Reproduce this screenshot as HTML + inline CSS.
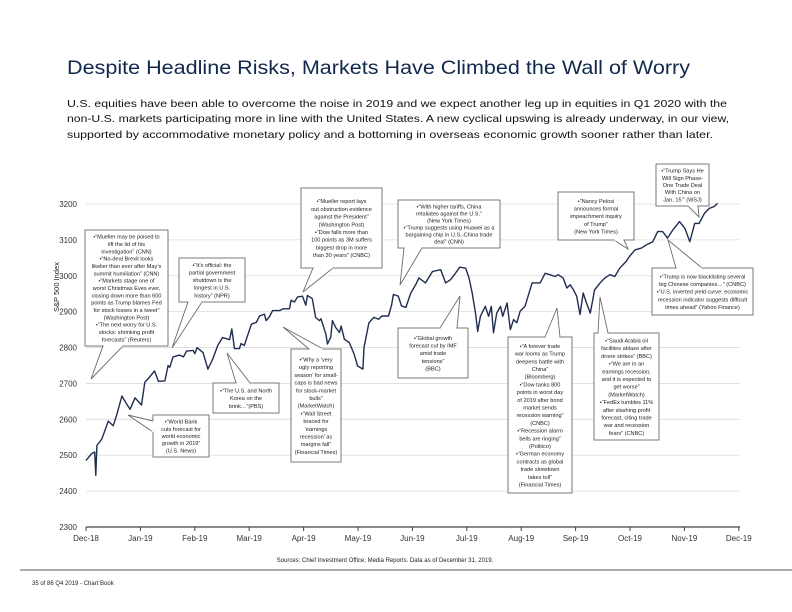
<!DOCTYPE html>
<html><head><meta charset="utf-8"><style>
body{margin:0;background:#fff;}
svg{display:block;font-family:"Liberation Sans",sans-serif;}
.box{fill:#fff;stroke:#6b6b6b;stroke-width:0.9;}
.ann{font-size:5.6px;fill:#222;text-anchor:middle;}
.tick{font-size:8px;fill:#333;}
</style></head><body>
<svg id="chart" width="792" height="612" viewBox="0 0 792 612">
<text x="67" y="74" font-size="19" fill="#12284c" textLength="623" lengthAdjust="spacingAndGlyphs">Despite Headline Risks, Markets Have Climbed the Wall of Worry</text>
<g font-size="10.3" fill="#111">
<text x="67" y="107" textLength="660" lengthAdjust="spacingAndGlyphs">U.S. equities have been able to overcome the noise in 2019 and we expect another leg up in equities in Q1 2020 with the</text>
<text x="67" y="122" textLength="662" lengthAdjust="spacingAndGlyphs">non-U.S. markets participating more in line with the United States. A new cyclical upswing is already underway, in our view,</text>
<text x="67" y="138" textLength="646" lengthAdjust="spacingAndGlyphs">supported by accommodative monetary policy and a bottoming in overseas economic growth sooner rather than later.</text>
</g>
<text transform="translate(59,287) rotate(-90)" font-size="7.5" fill="#222" text-anchor="middle">S&amp;P 500 Index</text>
<g id="grid"></g><g id="axes"></g><g id="series"></g><g id="anns"></g>
<text x="385" y="562" font-size="6" fill="#222" text-anchor="middle">Sources: Chief Investment Office; Media Reports. Data as of December 31, 2019.</text>
<line x1="20" y1="570" x2="792" y2="570" stroke="#222" stroke-width="0.8"/>
<text x="32" y="585" font-size="6" fill="#222">35 of 86 Q4 2019 - Chart Book</text>
</svg>
<script>
const monthLabels=["Dec-18","Jan-19","Feb-19","Mar-19","Apr-19","May-19","Jun-19","Jul-19","Aug-19","Sep-19","Oct-19","Nov-19","Dec-19"];
const yTicks=[2300,2400,2500,2600,2700,2800,2900,3000,3100,3200];
const dates=[0,.1,.16,.18,.2,.29,.41,.5,.56,.66,.75,.81,.9,1.02,1.08,1.17,1.26,1.33,1.45,1.51,1.54,1.6,1.72,1.79,1.85,1.97,2.0,2.04,2.15,2.24,2.33,2.42,2.51,2.64,2.68,2.73,2.82,2.85,2.91,3.04,3.13,3.19,3.28,3.31,3.37,3.43,3.56,3.62,3.74,3.77,3.83,3.89,3.98,4.04,4.07,4.16,4.22,4.29,4.32,4.41,4.44,4.5,4.53,4.59,4.66,4.69,4.75,4.84,4.93,4.99,5.09,5.11,5.2,5.29,5.38,5.44,5.56,5.62,5.65,5.74,5.8,5.88,5.97,6.06,6.12,6.24,6.37,6.52,6.61,6.7,6.79,6.87,6.98,7.04,7.1,7.16,7.2,7.25,7.34,7.4,7.45,7.49,7.55,7.62,7.66,7.74,7.8,7.86,7.92,7.98,8.07,8.2,8.35,8.44,8.53,8.62,8.68,8.77,8.84,8.9,8.96,9.02,9.08,9.14,9.2,9.27,9.35,9.45,9.54,9.63,9.72,9.81,9.93,9.99,10.09,10.21,10.3,10.42,10.51,10.6,10.69,10.79,10.91,11.01,11.1,11.19,11.27,11.37,11.46,11.55,11.61];
const spx=[2485,2504,2509,2444,2527,2545,2595,2582,2610,2665,2642,2628,2660,2640,2703,2718,2735,2706,2707,2750,2745,2774,2779,2774,2790,2792,2783,2800,2786,2740,2768,2805,2828,2822,2852,2797,2797,2811,2806,2865,2870,2888,2893,2875,2885,2903,2903,2908,2908,2932,2927,2941,2943,2918,2945,2936,2884,2875,2880,2837,2810,2829,2875,2856,2842,2860,2823,2814,2781,2749,2740,2800,2869,2884,2879,2888,2888,2920,2948,2943,2916,2912,2952,2975,2994,2980,3012,3017,2980,2989,3007,3024,3021,2994,2952,2896,2845,2887,2915,2887,2915,2841,2896,2915,2887,2924,2850,2878,2869,2901,2915,2980,2980,3007,3003,2998,3003,2994,2966,2975,2961,2943,2892,2952,2924,2896,2961,2980,2994,3003,2998,3021,3040,3054,3072,3077,3086,3095,3123,3123,3105,3128,3151,3132,3095,3146,3146,3174,3188,3193,3202];
const NS="http://www.w3.org/2000/svg";
function X(m){return 86+m*54.4;}
function Y(v){return 527-(v-2300)*0.3589;}
function mk(tag,attrs,parent){const e=document.createElementNS(NS,tag);for(const k in attrs)e.setAttribute(k,attrs[k]);parent.appendChild(e);return e;}
const grid=document.getElementById('grid'),axes=document.getElementById('axes');
yTicks.forEach(v=>{
 if(v>2300){const l=mk('line',{x1:86,x2:740,y1:Y(v),y2:Y(v),stroke:'#dcdcdc','stroke-width':0.8},grid);
 
 }
 const t=mk('text',{x:77,y:Y(v)+3,'text-anchor':'end',class:'tick'},axes);t.textContent=v;
 
 
});
const ax=mk('line',{x1:86,x2:740,y1:527,y2:527,stroke:'#444','stroke-width':1.2},axes);


monthLabels.forEach((m,i)=>{
 mk('line',{x1:X(i),x2:X(i),y1:527,y2:531,stroke:'#444','stroke-width':1},axes);
 const t=mk('text',{x:X(i),y:541,'text-anchor':'middle',class:'tick'},axes);t.textContent=m;
 
 
});
const pl=mk('polyline',{points:dates.map((d,i)=>X(d).toFixed(1)+','+Y(spx[i]).toFixed(1)).join(' '),fill:'none',stroke:'#1f2d50','stroke-width':1.4,'stroke-linejoin':'round'},document.getElementById('series'));


const anns=[
 {n:'annotation-mueller-brexit',b:[85,230,83,116],p:[[103,346],[123,346],[91,379]],t:['•“Mueller may be poised to','lift the lid of his','investigation” (CNN)','•“No-deal Brexit looks','likelier than ever after May’s','summit humiliation” (CNN)','•“Markets stage one of','worst Christmas Eves ever,','closing down more than 600','points as Trump blames Fed','for stock losses in a tweet”','(Washington Post)','•“The next worry for U.S.','stocks: shrinking profit','forecasts” (Reuters)']},
 {n:'annotation-shutdown',b:[179,258,66,44],p:[[188,302],[202,302],[172,348]],t:['•“It’s official: the','partial government','shutdown is the','longest in U.S.','history” (NPR)']},
 {n:'annotation-mueller-report',b:[301,188,81,80],p:[[313,268],[333,268],[303,292]],t:['•“Mueller report lays','out obstruction evidence','against the President”','(Washington Post)','•“Dow falls more than','100 points as 3M suffers','biggest drop in more','than 30 years” (CNBC)']},
 {n:'annotation-north-korea',b:[213,383,66,30],p:[[236,383],[250,383],[227,353]],t:['•“The U.S. and North','Korea on the','brink…”(PBS)']},
 {n:'annotation-world-bank',b:[153,415,56,42],p:[[153,421],[153,432],[128,415]],t:['•“World Bank','cuts forecast for','world economic','growth in 2019”','(U.S. News)']},
 {n:'annotation-earnings',b:[291,349,50,113],p:[[309,349],[323,349],[283,327]],t:['•“Why a ‘very','ugly reporting','season’ for small-','caps is bad news','for stock-market','bulls”','(MarketWatch)','•“Wall Street','braced for','‘earnings','recession’ as','margins fall”','(Financial Times)']},
 {n:'annotation-tariffs-huawei',b:[398,200,102,48],p:[[404,248],[422,248],[400,285]],t:['•“With higher tariffs, China','retaliates against the U.S.”','(New York Times)','•“Trump suggests using Huawei as a','bargaining chip in U.S.-China trade','deal” (CNN)']},
 {n:'annotation-imf',b:[398,328,70,50],p:[[440,328],[457,328],[460,296]],t:['•“Global growth','forecast cut by IMF','amid trade','tensions”','(BBC)']},
 {n:'annotation-trade-war',b:[508,337,64,156],p:[[545,337],[560,337],[557,308]],t:['•“A forever trade','war looms as Trump','deepens battle with','China”','(Bloomberg)','•“Dow tanks 800','points in worst day','of 2019 after bond','market sends','recession warning”','(CNBC)','•“Recession alarm','bells are ringing”','(Politico)','•“German economy','contracts as global','trade slowdown','takes toll”','(Financial Times)']},
 {n:'annotation-saudi',b:[594,333,65,107],p:[[598,333],[608,333],[600,297]],t:['•“Saudi Arabia oil','facilities ablaze after','drone strikes” (BBC)','•“We are in an','earnings recession,','and it is expected to','get worse”','(MarketWatch)','•“FedEx tumbles 11%','after slashing profit','forecast, citing trade','war and recession','fears” (CNBC)']},
 {n:'annotation-impeachment',b:[558,192,76,48],p:[[614,240],[624,240],[628,249]],t:['•“Nancy Pelosi','announces formal','impeachment inquiry','of Trump”','(New York Times)']},
 {n:'annotation-phase-one',b:[656,164,53,42],p:[[688,206],[698,206],[699,217]],t:['•“Trump Says He','Will Sign Phase-','One Trade Deal','With China on','Jan. 15’” (WSJ)']},
 {n:'annotation-blacklisting',b:[652,268,101,47],p:[[676,268],[702,268],[668,240]],t:['•“Trump is now blacklisting several','big Chinese companies…” (CNBC)','•“U.S. inverted yield curve: economic','recession indicator suggests difficult','times ahead” (Yahoo Finance)']}
];
const ag=document.getElementById('anns');
anns.forEach(a=>{
 const g=mk('g',{},ag);
 
 
 const [x,y,w,h]=a.b;
 mk('polygon',{points:a.p.map(q=>q.join(',')).join(' '),class:'box'},g);
 mk('rect',{x:x,y:y,width:w,height:h,class:'box'},g);
 mk('line',{x1:a.p[0][0]+0.6,y1:a.p[0][1],x2:a.p[1][0]-0.6,y2:a.p[1][1],stroke:'#fff','stroke-width':1.6},g);
 const lh=Math.min(7.7,(h-6)/a.t.length);
 const y0=y+(h-lh*a.t.length)/2+lh*0.78;
 a.t.forEach((s,i)=>{const t=mk('text',{x:x+w/2,y:y0+i*lh,class:'ann'},g);t.textContent=s;});
});
</script>
</body></html>
